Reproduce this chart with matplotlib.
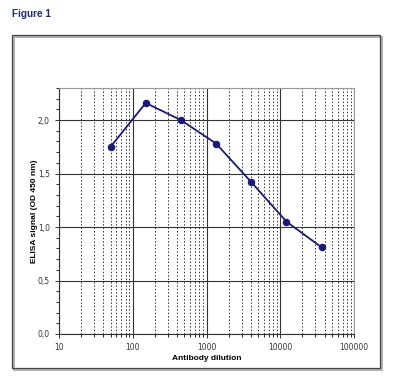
import numpy as np
import matplotlib.pyplot as plt
from matplotlib.patches import Rectangle
from matplotlib.ticker import FuncFormatter, MultipleLocator, LogLocator

dilution = [50, 150, 450, 1350, 4050, 12150, 36450]
signal = [1.75, 2.16, 2.00, 1.78, 1.42, 1.05, 0.81]
x_ticks = [10, 100, 1000, 10000, 100000]
y_ticks = [0.0, 0.5, 1.0, 1.5, 2.0]

W, H = 402, 384
fig = plt.figure(figsize=(W / 100, H / 100), dpi=100)
fig.patch.set_facecolor('white')

# outer frame around the chart
fig.patches.append(Rectangle((14 / W, 1 - 370 / H), 368 / W, 333 / H, transform=fig.transFigure,
                             fill=False, edgecolor='#b0b0b0', lw=1.4))
fig.patches.append(Rectangle((12 / W, 1 - 368 / H), 368 / W, 333 / H, transform=fig.transFigure,
                             fill=False, edgecolor='#444444', lw=0.9))
fig.text(12 / W, 1 - 14 / H, 'Figure 1', color='#1f2a78', fontsize=7.2, fontweight='bold',
         va='center', ha='left', family='Liberation Sans')

ax = fig.add_axes([59 / W, 1 - 334 / H, (354 - 59) / W, (334 - 88) / H])
ax.plot(dilution, signal, color='#1a1a7a', lw=1.3, marker='o', ms=4.4, zorder=3)
ax.set_xscale('log')
ax.set_xlim(10, 100000)
ax.set_ylim(0, 2.3)
ax.set_xticks(x_ticks)
ax.xaxis.set_major_formatter(FuncFormatter(lambda v, p: f'{int(v)}'))
ax.xaxis.set_minor_locator(LogLocator(base=10, subs=np.arange(2, 10)))
ax.xaxis.set_minor_formatter(FuncFormatter(lambda v, p: ''))
ax.set_yticks(y_ticks)
ax.yaxis.set_minor_locator(MultipleLocator(0.1))
ax.yaxis.set_major_formatter(FuncFormatter(lambda v, p: f'{v:.1f}'.replace('.', ',')))

ax.grid(which='major', color='#333333', lw=0.8)
ax.grid(which='minor', axis='x', color='#333333', lw=0.7, ls=(0, (1.5, 2)))
ax.tick_params(labelsize=5.5, colors='#333333', length=3, width=0.7)
ax.tick_params(which='minor', length=2, width=0.6)
for s in ['top', 'right']:
    ax.spines[s].set_color('#999999')
for s in ['left', 'bottom']:
    ax.spines[s].set_color('#333333')
ax.set_axisbelow(True)

ax.set_xlabel('Antibody dilution', fontsize=6, fontweight='bold', family='Liberation Sans', labelpad=2)
ax.set_ylabel('ELISA signal (OD 450 nm)', fontsize=6, fontweight='bold', family='Liberation Sans')
ax.yaxis.set_label_coords(-0.072, 0.5)

fig.savefig('out.png', dpi=100)
